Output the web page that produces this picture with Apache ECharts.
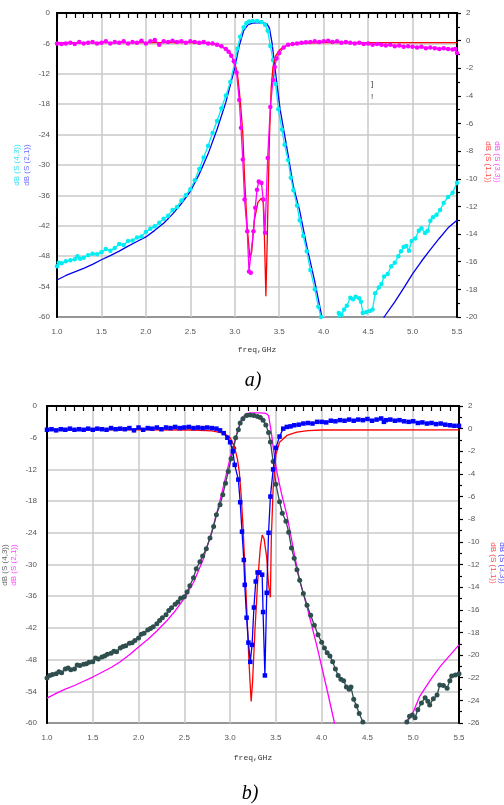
<!DOCTYPE html>
<html><head><meta charset="utf-8">
<script src="https://cdn.jsdelivr.net/npm/echarts@6/dist/echarts.min.js"></script>
<style>html,body{margin:0;padding:0;background:#fff}#c{width:504px;height:805px}</style>
</head><body><div id="c"></div>
<script>
// ---------- Chart a) ----------
// dB(S(2,1)) simulated (left axis)
const aS21 = [[1.0,-52.7],[1.1,-51.8],[1.2,-51.1],[1.3,-50.4],[1.4,-49.6],[1.5,-48.7],[1.6,-47.9],[1.7,-47.0],[1.8,-46.0],[1.9,-45.1],[2.0,-44.2],[2.1,-42.9],[2.2,-41.5],[2.3,-39.7],[2.4,-37.6],[2.5,-35.2],[2.6,-31.8],[2.7,-27.8],[2.8,-23.0],[2.9,-17.6],[3.0,-10.8],[3.05,-6.5],[3.1,-3.5],[3.15,-2.3],[3.2,-2.0],[3.3,-1.9],[3.36,-2.1],[3.39,-3.0],[3.42,-6.0],[3.46,-12.0],[3.51,-19.0],[3.6,-28.0],[3.66,-34.3],[3.73,-39.0],[3.81,-46.0],[3.9,-53.0],[3.98,-60.0],[4.0,-61.5],[4.3,'-'],[4.66,-61.5],[4.68,-60.0],[4.8,-57.0],[4.9,-54.3],[5.0,-51.5],[5.1,-49.0],[5.2,-46.7],[5.3,-44.5],[5.4,-42.4],[5.5,-40.9]];
// dB(S(4,3)) measured (left axis)
const aS43 = [[1.0,-50.0],[1.02,-49.3],[1.05,-49.4],[1.1,-49.0],[1.15,-48.8],[1.2,-48.6],[1.23,-48.0],[1.26,-48.5],[1.3,-48.3],[1.35,-47.8],[1.4,-47.5],[1.45,-47.6],[1.5,-47.2],[1.55,-46.6],[1.6,-46.9],[1.65,-46.4],[1.7,-45.6],[1.75,-45.8],[1.8,-45.0],[1.85,-44.9],[1.9,-44.3],[1.95,-44.1],[2.0,-43.2],[2.05,-42.6],[2.1,-42.1],[2.15,-41.4],[2.2,-40.6],[2.25,-40.0],[2.3,-38.9],[2.35,-38.3],[2.4,-37.0],[2.45,-35.9],[2.5,-34.8],[2.55,-33.0],[2.6,-30.8],[2.65,-28.5],[2.7,-26.2],[2.75,-23.7],[2.8,-21.3],[2.85,-18.8],[2.9,-16.3],[2.95,-13.6],[3.0,-9.8],[3.03,-7.0],[3.06,-4.7],[3.1,-2.8],[3.13,-2.0],[3.16,-1.7],[3.2,-1.6],[3.25,-1.6],[3.3,-1.8],[3.34,-2.3],[3.37,-3.5],[3.4,-6.5],[3.43,-9.3],[3.46,-14.0],[3.49,-19.0],[3.53,-23.0],[3.56,-26.0],[3.6,-29.0],[3.63,-32.5],[3.66,-35.0],[3.7,-38.0],[3.73,-40.9],[3.77,-44.0],[3.81,-47.0],[3.85,-50.7],[3.9,-54.5],[3.94,-58.0],[3.97,-60.0],[3.99,-62.0],[4.1,'-'],[4.16,-61.0],[4.17,-59.2],[4.2,-59.6],[4.23,-58.5],[4.26,-57.8],[4.3,-56.2],[4.33,-56.5],[4.36,-56.0],[4.4,-56.3],[4.42,-57.0],[4.44,-59.2],[4.48,-59.0],[4.52,-58.8],[4.55,-58.5],[4.58,-55.3],[4.62,-54.2],[4.65,-53.5],[4.68,-52.0],[4.72,-51.5],[4.76,-50.0],[4.8,-49.3],[4.84,-48.0],[4.87,-47.0],[4.9,-46.2],[4.93,-46.0],[4.96,-46.9],[4.99,-45.0],[5.03,-44.5],[5.07,-43.0],[5.1,-42.5],[5.14,-43.4],[5.17,-43.0],[5.2,-41.0],[5.23,-40.3],[5.27,-39.8],[5.31,-38.9],[5.35,-37.5],[5.4,-36.3],[5.45,-35.5],[5.5,-33.5]];
// dB(S(3,3)) measured (right axis)
const aS33 = [[1.0,-0.2],[1.05,-0.25],[1.1,-0.2],[1.15,-0.15],[1.2,-0.25],[1.25,-0.1],[1.3,-0.2],[1.35,-0.15],[1.4,-0.1],[1.45,-0.2],[1.5,-0.15],[1.55,-0.05],[1.6,-0.2],[1.65,-0.1],[1.7,-0.15],[1.75,-0.05],[1.8,-0.2],[1.85,-0.1],[1.9,-0.15],[1.95,0.0],[2.0,-0.2],[2.05,-0.05],[2.1,0.05],[2.15,-0.3],[2.2,-0.05],[2.25,-0.1],[2.3,0.0],[2.35,-0.1],[2.4,-0.05],[2.45,-0.15],[2.5,-0.05],[2.55,-0.1],[2.6,-0.15],[2.65,-0.1],[2.7,-0.2],[2.75,-0.2],[2.8,-0.3],[2.85,-0.4],[2.9,-0.6],[2.93,-0.8],[2.96,-1.1],[2.99,-1.5],[3.02,-2.3],[3.05,-4.3],[3.07,-6.3],[3.09,-8.6],[3.11,-11.5],[3.14,-13.8],[3.16,-16.7],[3.18,-16.8],[3.21,-13.8],[3.23,-12.1],[3.25,-10.8],[3.27,-10.2],[3.3,-10.3],[3.32,-11.5],[3.34,-13.9],[3.37,-8.5],[3.4,-4.8],[3.43,-2.85],[3.45,-1.9],[3.47,-1.3],[3.5,-0.9],[3.55,-0.5],[3.6,-0.3],[3.65,-0.25],[3.7,-0.2],[3.75,-0.15],[3.8,-0.12],[3.85,-0.1],[3.9,-0.05],[3.95,-0.1],[4.0,-0.05],[4.05,0.0],[4.1,-0.1],[4.15,-0.05],[4.2,-0.15],[4.25,-0.1],[4.3,-0.15],[4.35,-0.2],[4.4,-0.15],[4.45,-0.25],[4.5,-0.2],[4.55,-0.3],[4.6,-0.25],[4.65,-0.3],[4.7,-0.35],[4.75,-0.3],[4.8,-0.4],[4.85,-0.35],[4.9,-0.45],[4.95,-0.4],[5.0,-0.45],[5.05,-0.5],[5.1,-0.45],[5.15,-0.55],[5.2,-0.5],[5.25,-0.55],[5.3,-0.6],[5.35,-0.55],[5.4,-0.6],[5.45,-0.65],[5.48,-0.6],[5.5,-0.9]];
// dB(S(1,1)) simulated (right axis)
const aS11 = [[1.0,-0.15],[1.5,-0.15],[2.0,-0.15],[2.5,-0.15],[2.7,-0.2],[2.8,-0.3],[2.9,-0.6],[2.95,-0.9],[3.0,-1.6],[3.03,-2.4],[3.05,-3.6],[3.07,-5.0],[3.09,-6.7],[3.11,-9.9],[3.14,-13.5],[3.17,-15.7],[3.19,-15.3],[3.22,-13.0],[3.26,-11.7],[3.3,-11.4],[3.32,-11.7],[3.335,-14.5],[3.35,-18.5],[3.365,-14.5],[3.37,-12.8],[3.39,-7.0],[3.41,-3.4],[3.43,-1.9],[3.46,-1.1],[3.5,-0.7],[3.55,-0.45],[3.6,-0.3],[3.7,-0.22],[3.8,-0.18],[4.0,-0.15],[5.5,-0.15]];

// ---------- Chart b) ----------
// dB(S(4,3)) measured (left axis)
const bS43 = [[1.0,-51.5],[1.03,-51.0],[1.06,-50.8],[1.1,-50.7],[1.13,-50.3],[1.16,-50.5],[1.2,-49.8],[1.23,-49.6],[1.26,-49.9],[1.3,-49.8],[1.33,-49.0],[1.36,-49.1],[1.4,-48.9],[1.43,-48.8],[1.46,-48.5],[1.5,-48.4],[1.53,-47.7],[1.56,-47.9],[1.6,-47.5],[1.63,-47.3],[1.66,-47.0],[1.7,-46.8],[1.73,-46.4],[1.76,-46.5],[1.8,-45.8],[1.83,-45.5],[1.86,-45.4],[1.9,-44.9],[1.93,-44.8],[1.96,-44.4],[2.0,-43.9],[2.03,-43.2],[2.06,-43.0],[2.1,-42.4],[2.13,-42.1],[2.16,-41.8],[2.2,-41.2],[2.23,-40.6],[2.26,-40.1],[2.3,-39.5],[2.33,-38.7],[2.36,-38.2],[2.4,-37.5],[2.43,-37.1],[2.46,-36.4],[2.5,-36.1],[2.53,-35.2],[2.56,-34.0],[2.6,-32.5],[2.63,-30.8],[2.67,-29.5],[2.7,-28.4],[2.74,-27.0],[2.78,-25.0],[2.82,-22.8],[2.85,-20.6],[2.89,-18.7],[2.92,-16.8],[2.95,-14.6],[2.98,-12.4],[3.01,-10.0],[3.04,-8.0],[3.06,-6.0],[3.09,-4.5],[3.11,-3.2],[3.14,-2.4],[3.18,-1.8],[3.22,-1.7],[3.26,-1.8],[3.3,-2.0],[3.33,-2.2],[3.36,-2.7],[3.39,-3.6],[3.42,-5.0],[3.44,-6.8],[3.47,-10.5],[3.5,-14.8],[3.54,-18.1],[3.57,-20.3],[3.61,-21.8],[3.64,-23.9],[3.67,-26.9],[3.7,-28.8],[3.73,-31.0],[3.76,-33.0],[3.8,-35.5],[3.84,-37.7],[3.88,-39.6],[3.92,-41.5],[3.96,-43.3],[4.0,-44.7],[4.03,-45.8],[4.06,-46.7],[4.09,-47.3],[4.12,-48.4],[4.15,-49.8],[4.18,-51.0],[4.21,-51.7],[4.24,-52.0],[4.27,-53.2],[4.3,-53.6],[4.32,-53.2],[4.35,-55.5],[4.38,-56.8],[4.41,-58.2],[4.45,-59.8],[4.47,-61.0],[4.7,'-'],[4.91,-61.0],[4.93,-59.8],[4.96,-58.7],[4.99,-58.5],[5.02,-59.0],[5.05,-57.5],[5.09,-56.2],[5.13,-55.2],[5.16,-55.9],[5.18,-56.6],[5.22,-55.4],[5.26,-54.7],[5.29,-52.8],[5.33,-52.9],[5.37,-53.4],[5.4,-52.0],[5.42,-51.1],[5.46,-50.9],[5.5,-50.7]];
// dB(S(2,1)) simulated (left axis)
const bS21 = [[1.0,-55.3],[1.1,-54.4],[1.2,-53.6],[1.3,-52.9],[1.4,-52.1],[1.5,-51.3],[1.6,-50.4],[1.7,-49.5],[1.8,-48.4],[1.9,-47.1],[2.0,-45.6],[2.1,-44.2],[2.2,-42.6],[2.3,-40.8],[2.4,-38.8],[2.5,-36.4],[2.6,-33.4],[2.7,-29.3],[2.8,-23.8],[2.9,-17.2],[3.0,-9.8],[3.07,-5.5],[3.13,-2.2],[3.18,-1.4],[3.25,-1.3],[3.33,-1.3],[3.39,-1.4],[3.42,-1.8],[3.45,-5.0],[3.48,-9.0],[3.51,-12.4],[3.56,-16.5],[3.62,-20.6],[3.71,-28.8],[3.76,-33.0],[3.84,-38.0],[3.95,-45.6],[4.06,-53.8],[4.14,-60.0],[4.16,-61.5],[4.5,'-'],[4.91,-61.5],[4.93,-60.0],[5.0,-57.9],[5.07,-55.0],[5.14,-53.1],[5.21,-51.3],[5.3,-49.2],[5.4,-47.2],[5.5,-45.2]];
// dB(S(3,3)) measured (right axis)
const bS33 = [[1.0,-0.1],[1.05,-0.05],[1.1,-0.15],[1.15,-0.05],[1.2,-0.1],[1.25,0.0],[1.3,-0.1],[1.35,-0.05],[1.4,-0.1],[1.45,0.0],[1.5,-0.1],[1.55,0.0],[1.6,-0.05],[1.65,-0.1],[1.7,0.05],[1.75,-0.05],[1.8,0.0],[1.85,-0.05],[1.9,0.05],[1.95,-0.15],[2.0,0.1],[2.05,-0.1],[2.1,0.05],[2.15,0.0],[2.2,0.1],[2.25,-0.05],[2.3,0.1],[2.35,0.05],[2.4,0.15],[2.45,0.05],[2.5,0.1],[2.55,0.15],[2.6,0.05],[2.65,0.1],[2.7,0.05],[2.75,0.1],[2.8,0.05],[2.85,0.0],[2.89,-0.15],[2.93,-0.4],[2.97,-0.8],[3.0,-1.2],[3.03,-2.0],[3.05,-3.2],[3.09,-4.5],[3.11,-6.5],[3.13,-9.1],[3.15,-11.6],[3.16,-13.8],[3.18,-16.7],[3.2,-18.9],[3.22,-20.6],[3.24,-19.1],[3.26,-15.8],[3.28,-13.5],[3.3,-12.7],[3.32,-12.7],[3.35,-12.9],[3.36,-16.2],[3.38,-21.8],[3.4,-14.5],[3.42,-9.2],[3.44,-6.0],[3.47,-3.6],[3.5,-1.7],[3.54,-0.7],[3.58,0.0],[3.62,0.15],[3.66,0.2],[3.7,0.3],[3.75,0.35],[3.8,0.45],[3.85,0.5],[3.9,0.45],[3.95,0.6],[4.0,0.6],[4.05,0.55],[4.1,0.7],[4.15,0.65],[4.2,0.75],[4.25,0.7],[4.3,0.8],[4.35,0.7],[4.4,0.8],[4.45,0.75],[4.5,0.85],[4.55,0.7],[4.6,0.8],[4.65,0.9],[4.68,0.6],[4.7,0.75],[4.75,0.8],[4.8,0.7],[4.85,0.75],[4.9,0.65],[4.95,0.6],[5.0,0.65],[5.05,0.5],[5.1,0.55],[5.15,0.45],[5.2,0.5],[5.25,0.4],[5.3,0.45],[5.35,0.35],[5.4,0.3],[5.45,0.25],[5.5,0.25]];
// dB(S(1,1)) simulated (right axis)
const bS11 = [[1.0,-0.1],[2.0,-0.1],[2.6,-0.12],[2.8,-0.2],[2.9,-0.35],[2.95,-0.5],[3.0,-0.8],[3.03,-1.3],[3.05,-1.7],[3.08,-2.7],[3.1,-3.8],[3.12,-5.8],[3.14,-8.5],[3.16,-12.0],[3.18,-15.6],[3.2,-19.5],[3.215,-22.0],[3.23,-24.1],[3.245,-22.4],[3.27,-18.0],[3.3,-13.6],[3.33,-10.5],[3.35,-9.4],[3.37,-9.7],[3.4,-11.4],[3.42,-13.8],[3.44,-14.9],[3.45,-9.7],[3.47,-5.3],[3.5,-2.3],[3.54,-1.2],[3.62,-0.6],[3.73,-0.3],[3.85,-0.18],[4.0,-0.12],[5.5,-0.1]];

// axis ranges / labels
const xRange = [1.0, 5.5, 0.5];
const aLeftRange = [-60, 0, 6];
const aRightRange = [-20, 2, 2];
const bLeftRange = [-60, 0, 6];
const bRightRange = [-26, 2, 2];
const xName = 'freq,GHz';
const panelLabels = ['a)', 'b)'];
const traceNames = {s43: 'dB (S (4,3))', s21: 'dB (S (2,1))', s11: 'dB (S (1,1))', s33: 'dB (S (3,3))'};

const LBL = {fontSize: 8, color: '#555', fontFamily: 'Liberation Sans'};
const GRIDLINE = {show: true, lineStyle: {color: '#c8c8c8', width: 1.5}};
const BLACK = {show: true, lineStyle: {color: '#000', width: 2}};

function xAx(gi, gap) {
  return {gridIndex: gi, type: 'value', min: xRange[0], max: xRange[1], interval: xRange[2],
    axisLine: BLACK,
    axisTick: {show: true, length: 5, lineStyle: {color: '#000', width: 1.2}},
    minorTick: {show: true, splitNumber: 5, length: 5, lineStyle: {color: '#000', width: 1.2}},
    splitLine: GRIDLINE, minorSplitLine: {show: false},
    axisLabel: Object.assign({margin: 11, formatter: v => v.toFixed(1)}, LBL),
    name: xName, nameLocation: 'middle', nameGap: gap,
    nameTextStyle: {fontSize: 8, color: '#333', fontFamily: 'Liberation Mono'}};
}
function yLeft(gi, r, m) {
  return {gridIndex: gi, type: 'value', position: 'left', min: r[0], max: r[1], interval: r[2],
    axisLine: BLACK, axisTick: {show: false}, splitLine: GRIDLINE,
    axisLabel: Object.assign({margin: m}, LBL)};
}
function yRight(gi, r) {
  return {gridIndex: gi, type: 'value', position: 'right', min: r[0], max: r[1], interval: r[2],
    axisLine: BLACK,
    axisTick: {show: true, length: 4, lineStyle: {color: '#000', width: 1.2}},
    minorTick: {show: true, splitNumber: 2, length: 3, lineStyle: {color: '#000', width: 1.2}},
    splitLine: {show: false},
    axisLabel: Object.assign({margin: 9}, LBL)};
}
function ser(data, xi, yi, color, sym, size, z) {
  return {type: 'line', xAxisIndex: xi, yAxisIndex: yi, data: data, clip: true,
    symbol: sym || 'none', symbolSize: size || 0, showSymbol: !!sym, showAllSymbol: true,
    lineStyle: {color: color, width: 1.3}, itemStyle: {color: color, borderWidth: 0},
    z: z, silent: true, animation: false, connectNulls: false};
}
function vtext(x, y, text, color, rot) {
  return {type: 'text', x: x, y: y, rotation: rot, z: 100,
    style: {text: text, fill: color, font: '8px "Liberation Sans"', align: 'center', verticalAlign: 'middle',
      textAlign: 'center', textVerticalAlign: 'middle'}};
}

const chart = echarts.init(document.getElementById('c'), null, {renderer: 'canvas'});
chart.setOption({
  animation: false,
  backgroundColor: '#fff',
  grid: [
    {left: 57, right: 47, top: 13, height: 304, show: true, borderColor: '#000', borderWidth: 2, outerBoundsMode: 'none', containLabel: false},
    {left: 47, right: 45, top: 406, height: 317, show: true, borderColor: '#000', borderWidth: 2, outerBoundsMode: 'none', containLabel: false}
  ],
  xAxis: [xAx(0, 29), xAx(1, 31)],
  yAxis: [yLeft(0, aLeftRange, 7), yRight(0, aRightRange), yLeft(1, bLeftRange, 10), yRight(1, bRightRange)],
  series: [
    ser(aS21, 0, 0, '#0000ee', null, 0, 2),
    ser(aS43, 0, 0, '#00eef2', 'circle', 4.5, 3),
    ser(aS11, 0, 1, '#ff0000', null, 0, 4),
    ser(aS33, 0, 1, '#ff00ff', 'circle', 4.5, 5),
    ser(bS21, 1, 2, '#ff00ff', null, 0, 2),
    ser(bS43, 1, 2, '#2f4f4f', 'circle', 5, 3),
    ser(bS11, 1, 3, '#ff0000', null, 0, 4),
    ser(bS33, 1, 3, '#0000ff', 'rect', 4.5, 5)
  ],
  graphic: [
    vtext(17, 165, traceNames.s43, '#33e0f0', Math.PI / 2),
    vtext(27, 165, traceNames.s21, '#6a6aff', Math.PI / 2),
    vtext(488, 162, traceNames.s11, '#ff4a4a', -Math.PI / 2),
    vtext(497, 162, traceNames.s33, '#ff44ff', -Math.PI / 2),
    vtext(5, 565, traceNames.s43, '#666', Math.PI / 2),
    vtext(14, 565, traceNames.s21, '#ff44ff', Math.PI / 2),
    vtext(493, 563, traceNames.s11, '#ff4a4a', -Math.PI / 2),
    vtext(502, 563, traceNames.s33, '#4a4aff', -Math.PI / 2),
    {type: 'text', x: 372, y: 84, z: 100, style: {text: ']', fill: '#333', font: '8px "Liberation Sans"', align: 'center', verticalAlign: 'middle'}},
    {type: 'text', x: 372, y: 97, z: 100, style: {text: '!', fill: '#333', font: '8px "Liberation Sans"', align: 'center', verticalAlign: 'middle'}},
    {type: 'text', x: 253, y: 381, z: 100, style: {text: panelLabels[0], fill: '#000', font: 'italic 20px "Liberation Serif"', align: 'center', verticalAlign: 'middle'}},
    {type: 'text', x: 250, y: 794, z: 100, style: {text: panelLabels[1], fill: '#000', font: 'italic 20px "Liberation Serif"', align: 'center', verticalAlign: 'middle'}}
  ]
});
</script>
</body></html>
